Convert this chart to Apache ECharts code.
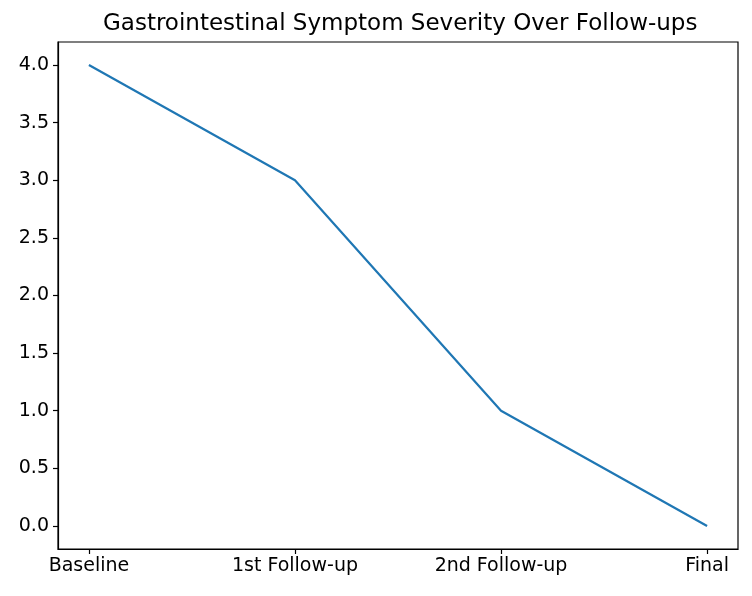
<!DOCTYPE html>
<html>
<head>
<meta charset="utf-8">
<script src="https://cdn.jsdelivr.net/npm/echarts@6/dist/echarts.min.js"></script>
<style>html,body{margin:0;padding:0;background:#fff}#c{width:752px;height:596px}</style>
</head>
<body>
<div id="c"></div>
<script>
var categories = ['Baseline', '1st Follow-up', '2nd Follow-up', 'Final'];
var severity = [4, 3, 1, 0];
var yTicks = [0, 0.5, 1, 1.5, 2, 2.5, 3, 3.5, 4];
var xTicks = [0, 1, 2, 3];

var chart = echarts.init(document.getElementById('c'), null, {renderer: 'canvas'});
var font = 'DejaVu Sans';
chart.setOption({
  animation: false,
  backgroundColor: '#ffffff',
  title: {
    text: 'Gastrointestinal Symptom Severity Over Follow-ups',
    left: 98, top: 8,
    textStyle: {fontFamily: font, fontSize: 23, fontWeight: 'normal', color: '#000'}
  },
  grid: {left: 58, right: 14, top: 42, bottom: 47, show: true, borderColor: '#000', borderWidth: 1.2, backgroundColor: 'transparent'},
  xAxis: {
    type: 'value', min: -0.15, max: 3.15,
    splitLine: {show: false},
    axisLine: {show: true, onZero: false, lineStyle: {color: '#000', width: 1.2}},
    axisTick: {show: true, inside: false, customValues: xTicks, length: 5, lineStyle: {color: '#000', width: 1.2}},
    axisLabel: {customValues: xTicks, formatter: function (v) { return categories[Math.round(v)] || ''; },
      fontFamily: font, fontSize: 19, color: '#000', margin: 8}
  },
  yAxis: {
    type: 'value', min: -0.2, max: 4.2,
    splitLine: {show: false},
    axisLine: {show: true, onZero: false, lineStyle: {color: '#000', width: 1.2}},
    axisTick: {show: true, inside: false, customValues: yTicks, length: 5, lineStyle: {color: '#000', width: 1.2}},
    axisLabel: {customValues: yTicks, formatter: function (v) { return v.toFixed(1); },
      fontFamily: font, fontSize: 19, color: '#000', margin: 9}
  },
  series: [{
    type: 'line',
    data: severity.map(function (v, i) { return [xTicks[i], v]; }),
    showSymbol: false,
    lineStyle: {color: '#1f77b4', width: 2.2},
    itemStyle: {color: '#1f77b4'}
  }]
});
</script>
</body>
</html>
